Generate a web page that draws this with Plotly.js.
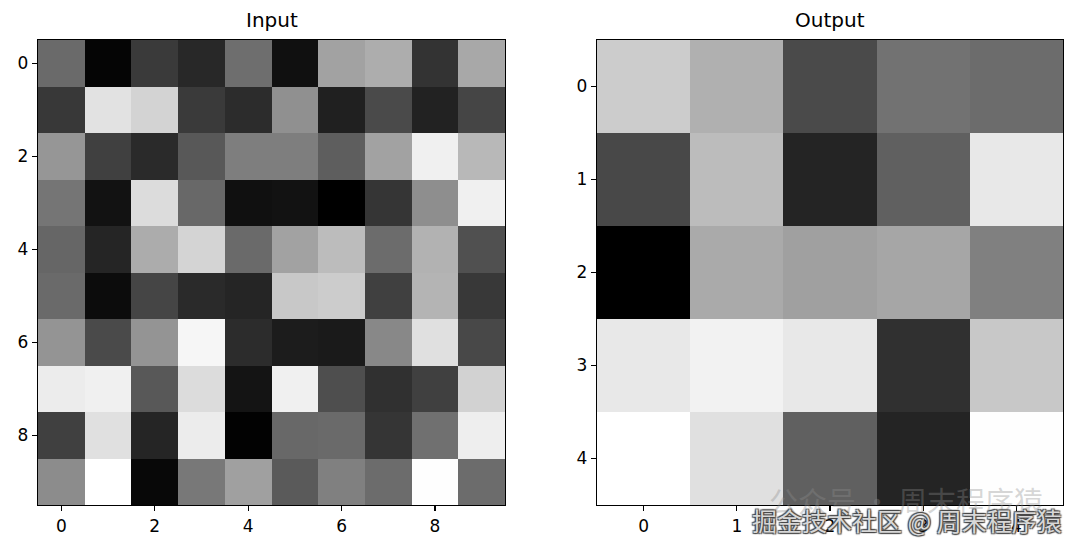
<!DOCTYPE html>
<html>
<head>
<meta charset="utf-8">
<script src="https://cdn.plot.ly/plotly-3.0.1.min.js"></script>
<style>html,body{margin:0;padding:0;background:#fff;}#chart{width:1080px;height:551px;}</style>
</head>
<body>
<div id="chart"></div>
<script>
// Input 10x10 grayscale values (0-255), row 0 at top
const inputValues = [
  [106,   5,  58,  40, 110,  16, 162, 173,  51, 168],
  [ 56, 226, 211,  58,  44, 144,  32,  74,  34,  69],
  [150,  64,  42,  88, 126, 126,  94, 162, 240, 184],
  [117,  18, 220, 104,  16,  18,   0,  53, 142, 240],
  [102,  37, 172, 212, 106, 162, 188, 108, 178,  80],
  [106,  12,  69,  42,  37, 200, 204,  64, 180,  56],
  [148,  74, 148, 246,  44,  28,  26, 136, 224,  72],
  [236, 240,  88, 220,  20, 240,  78,  48,  64, 210],
  [ 64, 224,  37, 236,   2, 104, 106,  53, 112, 238],
  [140, 255,   8, 120, 160,  90, 128, 108, 254, 108]
];
// Output 5x5 grayscale values
const outputValues = [
  [204, 176,  74, 114, 108],
  [ 72, 188,  36,  96, 232],
  [  0, 170, 160, 166, 128],
  [232, 242, 232,  48, 200],
  [255, 224,  96,  36, 254]
];
const inputTicks = [0, 2, 4, 6, 8];
const outputTicks = [0, 1, 2, 3, 4];
const titles = ["Input", "Output"];
const watermark = "掘金技术社区 @ 周末程序猿";
const watermark2 = "公众号 · 周末程序猿";

const gray = [[0, "#000000"], [1, "#ffffff"]];
const font = {family: "DejaVu Sans", size: 17, color: "#000"};

const traces = [
  {type: "heatmap", z: inputValues, colorscale: gray, zmin: 0, zmax: 255,
   showscale: false, xaxis: "x", yaxis: "y", hoverinfo: "z"},
  {type: "heatmap", z: outputValues, colorscale: gray, zmin: 0, zmax: 255,
   showscale: false, xaxis: "x2", yaxis: "y2", hoverinfo: "z"}
];

function ax(domain, range, ticks, anchor) {
  return {
    domain: domain, range: range, anchor: anchor,
    tickmode: "array", tickvals: ticks, ticktext: ticks.map(String),
    ticks: "outside", ticklen: 5, tickwidth: 1.2, tickcolor: "#000",
    showgrid: false, zeroline: false,
    showline: true, linecolor: "#000", linewidth: 1.2, mirror: true,
    tickfont: font
  };
}

const y0 = 1 - 505 / 551, y1 = 1 - 40 / 551;
const layout = {
  width: 1080, height: 551,
  margin: {l: 0, r: 0, t: 0, b: 0},
  paper_bgcolor: "#fff", plot_bgcolor: "#fff",
  font: font,
  xaxis: ax([38 / 1080, 505 / 1080], [-0.5, 9.5], inputTicks, "y"),
  yaxis: ax([y0, y1], [9.5, -0.5], inputTicks, "x"),
  xaxis2: ax([597 / 1080, 1063 / 1080], [-0.5, 4.5], outputTicks, "y2"),
  yaxis2: ax([y0, y1], [4.5, -0.5], outputTicks, "x2"),
  annotations: [
    {text: titles[0], xref: "paper", yref: "paper", x: (38 + 505) / 2 / 1080, y: 1 - 20 / 551,
     xanchor: "center", yanchor: "middle", showarrow: false,
     font: {family: "DejaVu Sans", size: 20, color: "#000"}},
    {text: titles[1], xref: "paper", yref: "paper", x: (597 + 1063) / 2 / 1080, y: 1 - 20 / 551,
     xanchor: "center", yanchor: "middle", showarrow: false,
     font: {family: "DejaVu Sans", size: 20, color: "#000"}},
    {text: watermark2, xref: "paper", yref: "paper", x: 1045 / 1080, y: 1 - 500 / 551,
     xanchor: "right", yanchor: "middle", showarrow: false,
     font: {family: "Noto Sans CJK SC", size: 29, color: "rgba(140,140,140,0.35)"}},
    {text: watermark, xref: "paper", yref: "paper", x: 1064 / 1080, y: 1 - 520 / 551,
     xanchor: "right", yanchor: "middle", showarrow: false,
     font: {family: "Noto Sans CJK SC", size: 25, color: "rgba(225,225,225,0.95)",
            shadow: "1px 1px 1px #444, -1px -1px 1px #444, 1px -1px 1px #444, -1px 1px 1px #444"}}
  ]
};

Plotly.newPlot("chart", traces, layout, {staticPlot: true, displayModeBar: false});
</script>
</body>
</html>
